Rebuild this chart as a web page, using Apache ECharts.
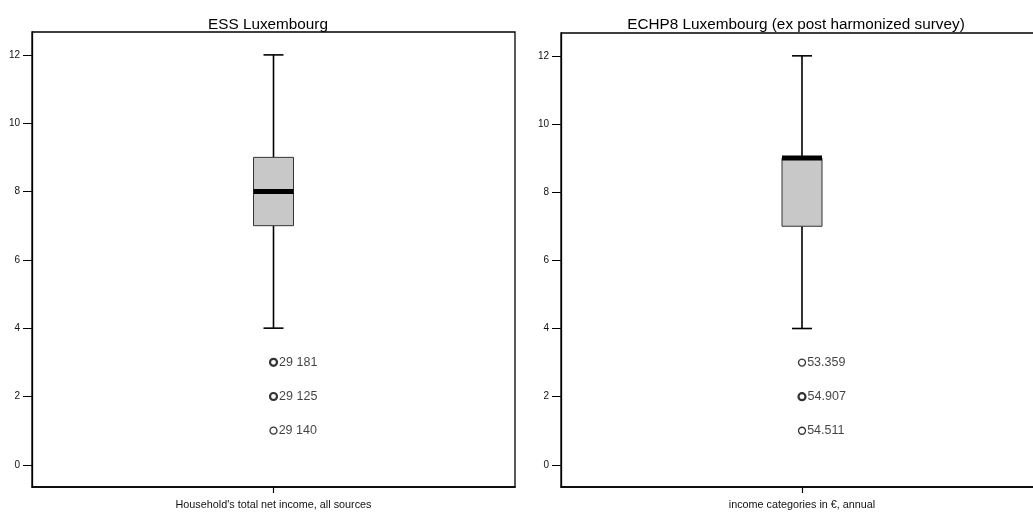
<!DOCTYPE html>
<html>
<head>
<meta charset="utf-8">
<script src="https://cdn.jsdelivr.net/npm/echarts@6/dist/echarts.min.js"></script>
<style>
html,body{margin:0;padding:0;background:#fff;}
#c{width:1033px;height:512px;}
</style>
</head>
<body>
<div id="c"></div>
<script>
// ---- data ----
const panelTitles = ['ESS Luxembourg', 'ECHP8 Luxembourg (ex post harmonized survey)'];
const categories = ["Household's total net income, all sources", 'income categories in €, annual'];
// [min, Q1, median, Q3, max]
const boxESS = [4, 7, 8, 9, 12];
const boxECHP = [4, 7, 9, 9, 12];
const outliersESS = [3, 2, 1];
const outlierLabelsESS = ['29 181', '29 125', '29 140'];
const outliersECHP = [3, 2, 1];
const outlierLabelsECHP = ['53.359', '54.907', '54.511'];
const yTicks = [0, 2, 4, 6, 8, 10, 12];

// styles (repeated cases drawn bolder)
const outlierBoldESS = [true, true, false];
const outlierBoldECHP = [false, true, false];

const FONT = 'Liberation Sans, Arial, sans-serif';
const chart = echarts.init(document.getElementById('c'));

function boxRender(params, api) {
  const x = api.value(0);
  const p = [1,2,3,4,5].map(i => api.coord([x, api.value(i)]));
  const cx = p[0][0];
  const bw = 40, cw = 20;
  const stroke = {stroke: '#000', lineWidth: 1.6};
  return {
    type: 'group',
    children: [
      {type: 'line', shape: {x1: cx, y1: p[4][1], x2: cx, y2: p[3][1]}, style: stroke},
      {type: 'line', shape: {x1: cx, y1: p[1][1], x2: cx, y2: p[0][1]}, style: stroke},
      {type: 'line', shape: {x1: cx - cw/2, y1: p[4][1], x2: cx + cw/2, y2: p[4][1]}, style: stroke},
      {type: 'line', shape: {x1: cx - cw/2, y1: p[0][1], x2: cx + cw/2, y2: p[0][1]}, style: stroke},
      {type: 'rect', shape: {x: cx - bw/2, y: p[3][1], width: bw, height: p[1][1] - p[3][1]},
        style: {fill: '#c8c8c8', stroke: '#333', lineWidth: 1}},
      {type: 'line', shape: {x1: cx - bw/2, y1: p[2][1], x2: cx + bw/2, y2: p[2][1]},
        style: {stroke: '#000', lineWidth: 5}}
    ]
  };
}

function yAxisCfg(gi) {
  return {
    gridIndex: gi, type: 'value', min: -0.65, max: 12.67,
    splitLine: {show: false},
    axisLine: {show: true, lineStyle: {color: '#000', width: 1.3}},
    axisTick: {show: true, length: 9, customValues: yTicks, lineStyle: {color: '#000', width: 1}},
    axisLabel: {customValues: yTicks, fontSize: 10, color: '#111', margin: 12, fontFamily: FONT}
  };
}
function xAxisCfg(gi) {
  return {
    gridIndex: gi, type: 'category', data: [categories[gi]], boundaryGap: true,
    axisLine: {show: true, onZero: false, lineStyle: {color: '#000', width: 1.6}},
    axisTick: {show: true, alignWithLabel: true, length: 6, lineStyle: {color: '#000', width: 1.2}},
    axisLabel: {fontSize: 10.8, color: '#111', margin: 13, fontFamily: FONT}
  };
}
function outlierData(gi, vals, labels, bold) {
  return vals.map((v, i) => ({
    value: [categories[gi], v],
    label: {formatter: labels[i]},
    itemStyle: {borderWidth: bold[i] ? 2.2 : 1.3}
  }));
}
function outlierSeries(gi, vals, labels, bold) {
  return {
    type: 'scatter', xAxisIndex: gi, yAxisIndex: gi,
    symbol: 'circle', symbolSize: 7,
    itemStyle: {color: '#fff', borderColor: '#000'},
    label: {show: true, position: 'right', distance: 1, fontSize: 12.5, color: '#111', fontFamily: FONT},
    data: outlierData(gi, vals, labels, bold),
    z: 5
  };
}

chart.setOption({
  animation: false,
  backgroundColor: '#fff',
  title: [
    {text: panelTitles[0], left: 263, top: 12, textAlign: 'center',
      textStyle: {fontSize: 15.3, fontWeight: 'normal', color: '#000', fontFamily: FONT}},
    {text: panelTitles[1], left: 791, top: 12, textAlign: 'center',
      textStyle: {fontSize: 15.3, fontWeight: 'normal', color: '#000', fontFamily: FONT}}
  ],
  grid: [
    {left: 32, top: 32, width: 483, height: 455, show: true, borderColor: '#000', borderWidth: 1.3,
      backgroundColor: 'transparent', outerBoundsMode: 'none', containLabel: false},
    {left: 561, top: 33, width: 482, height: 454, show: true, borderColor: '#000', borderWidth: 1.3,
      backgroundColor: 'transparent', outerBoundsMode: 'none', containLabel: false}
  ],
  xAxis: [xAxisCfg(0), xAxisCfg(1)],
  yAxis: [yAxisCfg(0), yAxisCfg(1)],
  series: [
    {type: 'custom', xAxisIndex: 0, yAxisIndex: 0, renderItem: boxRender,
      data: [[categories[0]].concat(boxESS)], z: 3},
    {type: 'custom', xAxisIndex: 1, yAxisIndex: 1, renderItem: boxRender,
      data: [[categories[1]].concat(boxECHP)], z: 3},
    outlierSeries(0, outliersESS, outlierLabelsESS, outlierBoldESS),
    outlierSeries(1, outliersECHP, outlierLabelsECHP, outlierBoldECHP)
  ]
});
</script>
</body>
</html>
